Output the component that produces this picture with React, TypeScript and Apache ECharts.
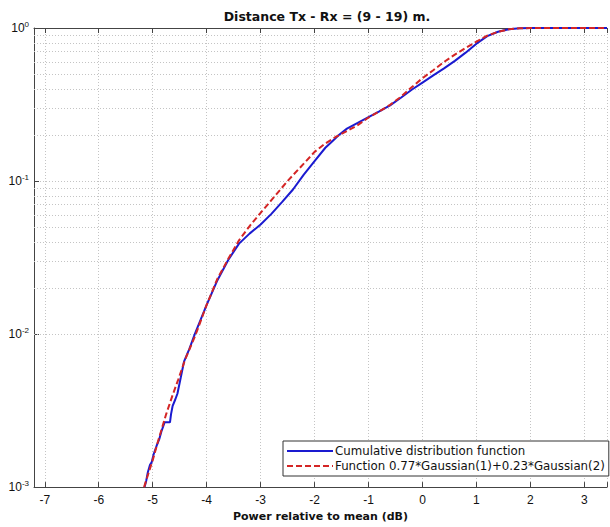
import React, { useEffect, useRef } from "react";
import * as echarts from "echarts";

const titleText = "Distance Tx - Rx = (9 - 19) m.";
const xAxisName = "Power relative to mean (dB)";
const legendNames = ["Cumulative distribution function", "Function 0.77*Gaussian(1)+0.23*Gaussian(2)"];

const cdfX = [-5.15, -5.12, -5.09, -5.05, -5.02, -4.98, -4.93, -4.88, -4.84, -4.78, -4.68, -4.66, -4.63, -4.58, -4.54, -4.48, -4.42, -4.32, -4.22, -4.0, -3.8, -3.6, -3.4, -3.2, -3.0, -2.8, -2.6, -2.4, -2.2, -2.0, -1.8, -1.7, -1.55, -1.4, -1.2, -1.0, -0.8, -0.6, -0.4, -0.2, 0.0, 0.2, 0.4, 0.6, 0.8, 1.0, 1.2, 1.4, 1.6, 1.8, 2.0, 3.42];
const cdfP = [0.001, 0.0011, 0.00125, 0.0014, 0.00145, 0.00165, 0.00185, 0.00205, 0.0023, 0.00265, 0.00265, 0.003, 0.0034, 0.00375, 0.0041, 0.0052, 0.0066, 0.008, 0.01, 0.0155, 0.0225, 0.0305, 0.039, 0.0455, 0.052, 0.061, 0.073, 0.088, 0.11, 0.135, 0.165, 0.178, 0.2, 0.22, 0.24, 0.262, 0.285, 0.312, 0.35, 0.395, 0.44, 0.49, 0.545, 0.61, 0.69, 0.79, 0.885, 0.945, 0.98, 0.995, 1.0, 1.0];

const fitX = [-5.16, -5.0, -4.9, -4.75, -4.63, -4.53, -4.4, -4.2, -4.0, -3.8, -3.6, -3.4, -3.2, -3.0, -2.8, -2.5, -2.2, -2.0, -1.8, -1.6, -1.4, -1.2, -1.0, -0.8, -0.6, -0.4, -0.2, 0.0, 0.2, 0.4, 0.6, 0.8, 1.0, 1.2, 1.4, 1.6, 1.8, 2.0, 3.42];
const fitP = [0.001, 0.0015, 0.002, 0.003, 0.004, 0.005, 0.0068, 0.01, 0.0155, 0.023, 0.031, 0.041, 0.051, 0.062, 0.075, 0.1, 0.13, 0.155, 0.176, 0.195, 0.212, 0.232, 0.26, 0.285, 0.315, 0.355, 0.41, 0.47, 0.53, 0.6, 0.67, 0.74, 0.815, 0.89, 0.945, 0.98, 0.995, 1.0, 1.0];

const decades = [0.001, 0.01, 0.1];
const minorFactors = [2, 3, 4, 5, 6, 7, 8, 9];

const FONT = "'Liberation Sans', Arial, sans-serif";
const WIDE = "'DejaVu Sans', 'Liberation Sans', sans-serif";

export default function App() {
  const ref = useRef<HTMLDivElement>(null);
  useEffect(() => {
    if (!ref.current) return;
    const chart = echarts.init(ref.current, null, { renderer: "svg" });
    const minorLines: any[] = [];
    decades.forEach((d) => minorFactors.forEach((f) => minorLines.push({ yAxis: +(d * f).toPrecision(3) })));
    const gridLine = { show: true, lineStyle: { color: "#c4c4c4", type: [1, 2], width: 1 } };
    chart.setOption({
      animation: false,
      backgroundColor: "#ffffff",
      title: {
        text: titleText,
        left: 322,
        top: 5,
        textAlign: "center",
        textStyle: { fontFamily: WIDE, fontSize: 12.5, fontWeight: "bold", color: "#111" },
      },
      legend: {
        orient: "vertical",
        left: 283,
        top: 441,
        itemWidth: 46,
        itemHeight: 12,
        itemGap: 3,
        padding: [4, 4, 4, 3],
        backgroundColor: "#ffffff",
        borderColor: "#333",
        borderWidth: 1,
        borderRadius: 0,
        itemStyle: { opacity: 0 },
        textStyle: { fontFamily: WIDE, fontSize: 11.8, color: "#111", padding: [0, 0, 0, -3] },
        data: legendNames,
      },
      grid: { left: 34, right: 0, top: 28, bottom: 38, containLabel: false },
      xAxis: [
        {
          type: "value",
          min: -7.2,
          max: 3.42,
          minInterval: 1,
          maxInterval: 1,
          name: xAxisName,
          nameLocation: "middle",
          nameGap: 23,
          nameTextStyle: { fontFamily: WIDE, fontSize: 11, fontWeight: "bold", color: "#111" },
          axisLine: { show: true, onZero: false, lineStyle: { color: "#444", width: 1 } },
          axisTick: { show: true, inside: true, length: 5, lineStyle: { color: "#444" } },
          axisLabel: {
            fontFamily: FONT,
            fontSize: 12,
            color: "#111",
            margin: 7,
            formatter: (v: number) => (Number.isInteger(v) ? String(v) : ""),
          },
          splitLine: gridLine,
        },
        {
          type: "value",
          position: "top",
          min: -7.2,
          max: 3.42,
          minInterval: 1,
          maxInterval: 1,
          axisLine: { show: true, onZero: false, lineStyle: { color: "#444", width: 1 } },
          axisTick: { show: true, inside: true, length: 5, lineStyle: { color: "#444" } },
          axisLabel: { show: false },
          splitLine: { show: false },
        },
      ],
      yAxis: {
        type: "log",
        logBase: 10,
        min: 0.001,
        max: 1,
        axisLine: { show: true, onZero: false, lineStyle: { color: "#444", width: 1 } },
        axisTick: { show: true, inside: true, length: 5, lineStyle: { color: "#444" } },
        axisLabel: {
          margin: 5,
          fontFamily: FONT,
          color: "#111",
          formatter: (v: number) => `{b|10}{s|${Math.round(Math.log10(v))}}`,
          rich: {
            b: { fontFamily: FONT, fontSize: 12, color: "#111" },
            s: { fontFamily: FONT, fontSize: 8, color: "#111", padding: [0, 0, 8, 0] },
          },
        },
        splitLine: gridLine,
      },
      series: [
        {
          name: legendNames[0],
          type: "line",
          data: cdfX.map((x, i) => [x, cdfP[i]]),
          showSymbol: false,
          symbol: "none",
          z: 3,
          lineStyle: { color: "#1a1ad0", width: 2 },
          itemStyle: { color: "#1a1ad0" },
          markLine: {
            silent: true,
            symbol: "none",
            z: 1,
            label: { show: false },
            lineStyle: { color: "#c4c4c4", type: [1, 2], width: 1 },
            data: minorLines,
          },
        },
        {
          name: legendNames[1],
          type: "line",
          data: fitX.map((x, i) => [x, fitP[i]]),
          showSymbol: false,
          symbol: "none",
          z: 4,
          lineStyle: { color: "#d42525", width: 2, type: [6, 3] },
          itemStyle: { color: "#d42525" },
        },
      ],
    });
    return () => chart.dispose();
  }, []);
  return <div ref={ref} style={{ position: "absolute", left: 0, top: 0, width: 610, height: 527 }} />;
}
